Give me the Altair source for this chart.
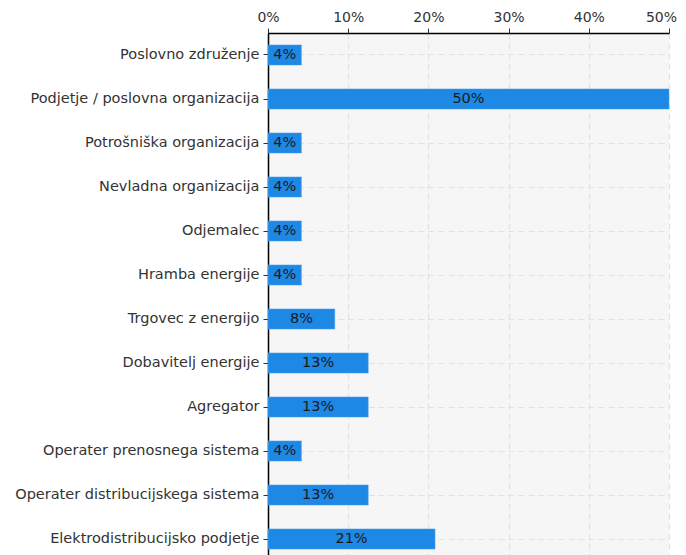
import altair as alt
import pandas as pd

categories = [
    "Poslovno združenje",
    "Podjetje / poslovna organizacija",
    "Potrošniška organizacija",
    "Nevladna organizacija",
    "Odjemalec",
    "Hramba energije",
    "Trgovec z energijo",
    "Dobavitelj energije",
    "Agregator",
    "Operater prenosnega sistema",
    "Operater distribucijskega sistema",
    "Elektrodistribucijsko podjetje",
]
values = [4.17, 50.0, 4.17, 4.17, 4.17, 4.17, 8.33, 12.5, 12.5, 4.17, 12.5, 20.83]
labels = ["4%", "50%", "4%", "4%", "4%", "4%", "8%", "13%", "13%", "4%", "13%", "21%"]

df = pd.DataFrame({"cat": categories, "val": values, "lab": labels})

FONT = "DejaVu Sans"

y = alt.Y(
    "cat:N",
    sort=categories,
    title=None,
    scale=alt.Scale(paddingInner=0.54, paddingOuter=0.27),
    axis=alt.Axis(
        labelFont=FONT, labelFontSize=14.5, labelColor="#333333",
        tickColor="#333333", tickSize=5, labelPadding=4,
        domainColor="#000000", domainWidth=1.5,
        grid=True, gridColor="#e2e2e2", gridDash=[6, 4], gridWidth=1.2,
        labelLimit=400,
    ),
)
x = alt.X(
    "val:Q",
    title=None,
    scale=alt.Scale(domain=[0, 50], nice=False),
    axis=alt.Axis(
        orient="top", values=[0, 10, 20, 30, 40, 50],
        labelExpr="datum.value + '%'",
        labelFont=FONT, labelFontSize=14, labelColor="#333333",
        tickColor="#333333", tickSize=5, labelPadding=4, labelFlush=False,
        labelOffset={"condition": {"test": "datum.value == 50", "value": -8}, "value": 0},
        domainColor="#000000", domainWidth=1.5,
        grid=True, gridColor="#e2e2e2", gridDash=[6, 4], gridWidth=1.2,
    ),
)

bars = alt.Chart(df).mark_bar(color="#1e88e5", stroke="#5aa8ee", strokeWidth=0.5).encode(x=x, y=y)

text = alt.Chart(df).mark_text(font=FONT, fontSize=14.5, color="#1a1a1a").encode(
    x=alt.X("mid:Q", scale=alt.Scale(domain=[0, 50], nice=False)),
    y=alt.Y("cat:N", sort=categories),
    text="lab:N",
).transform_calculate(mid="datum.val / 2")

chart = (
    alt.layer(bars, text)
    .properties(width=401, height=528, background="#ffffff",
                autosize=alt.AutoSizeParams(type="none"),
                padding={"top": 25, "left": 260, "right": 9, "bottom": 0})
    .configure_view(fill="#f6f6f6", stroke=None)
)

chart.save("out.html", embed_options={"renderer": "svg", "actions": False})
